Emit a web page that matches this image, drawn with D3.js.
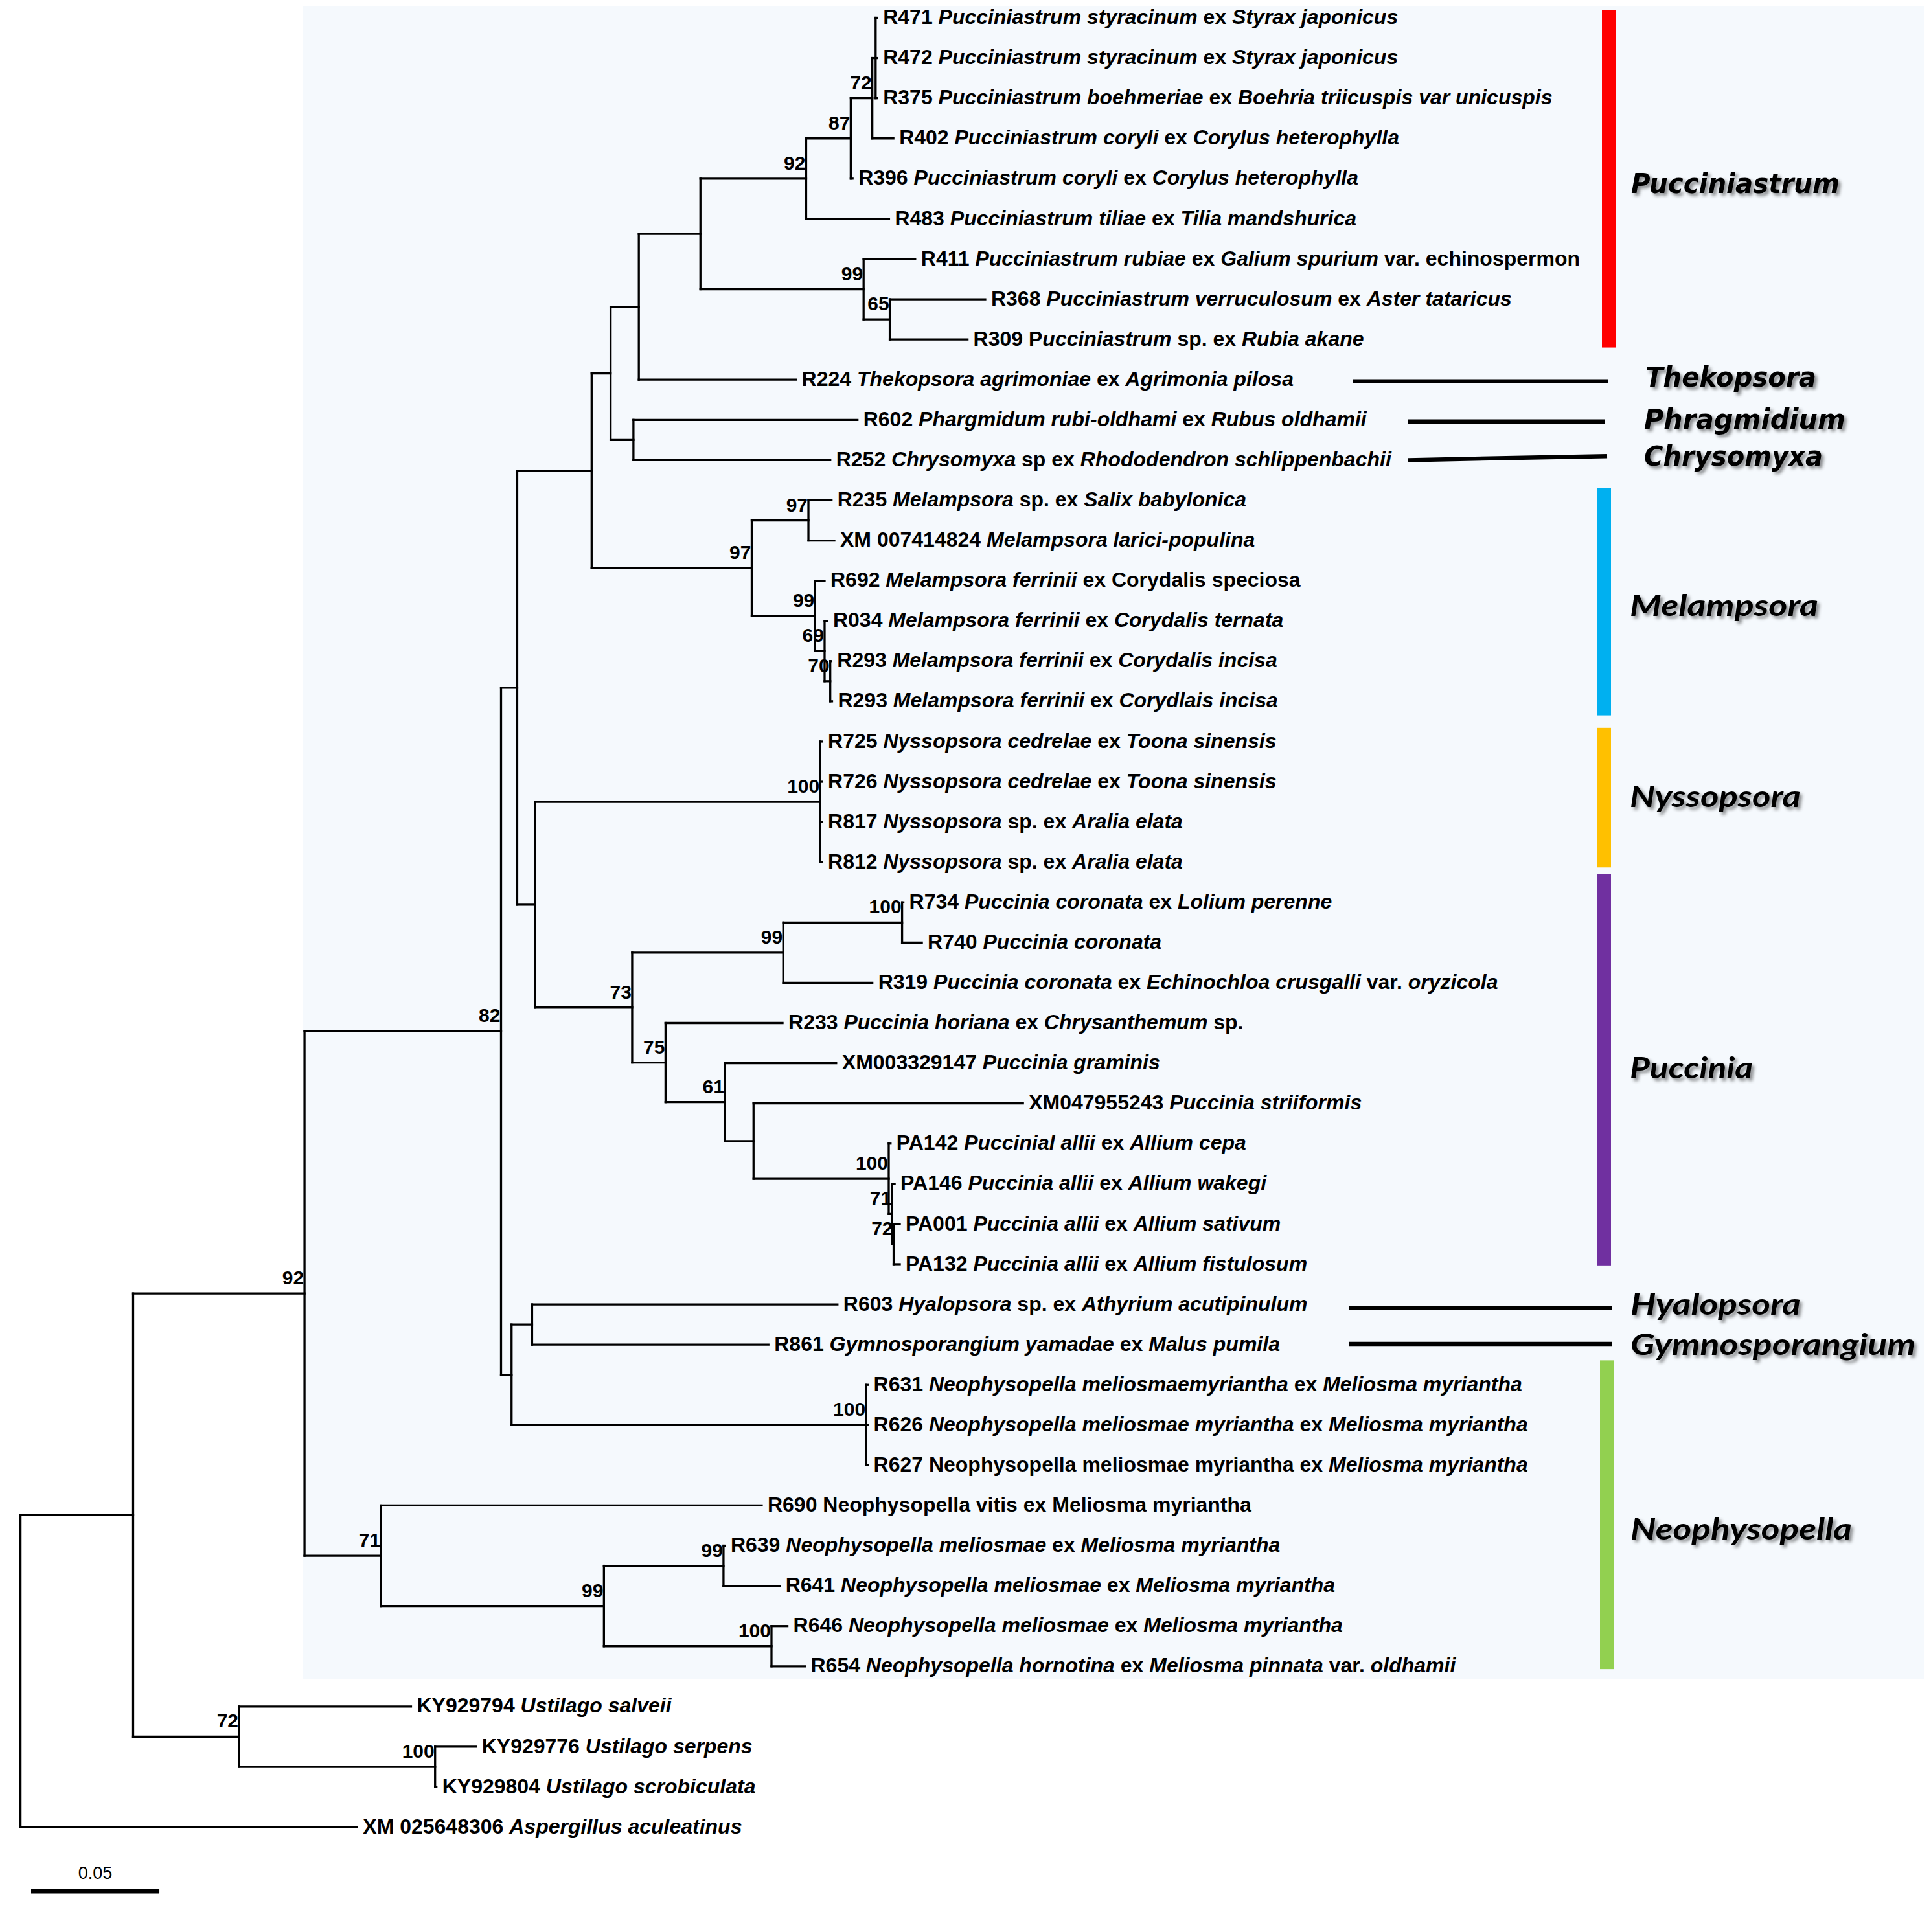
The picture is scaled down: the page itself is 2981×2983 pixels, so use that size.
<!DOCTYPE html>
<html>
<head>
<meta charset="utf-8">
<script src="https://cdn.jsdelivr.net/npm/d3@7"></script>
<style>
  html, body { margin: 0; padding: 0; background: #ffffff; }
  svg { display: block; }
  text { white-space: pre; }
</style>
</head>
<body>
<script>
// ---------------- DATA ----------------
// Tree nodes in preorder (children appear in drawing order, top to bottom)
const nodeIds = [
  "root","A","B","C","D","F","H","I","J","K","L","M","M1",
  "R471","R472","R375","R402","R396","R483",
  "O","R411","O1","R368","R309","R224",
  "Q","R602","R252",
  "S","S1","R235","XM7414824","S2","R692","S3","R034","S4","R293a","R293b",
  "G","G1","R725","R726","R817","R812",
  "G2","P1","P1a","R734","R740","R319",
  "P2","R233","P3","XM3329147","P4","XM47955243","P5","PA142","P6","PA146","P7","PA001","PA132",
  "E","E1","R603","R861","E2","R631","R626","R627",
  "N","R690","N2","N3","R639","R641","N4","R646","R654",
  "U","KY929794","U2","KY929776","KY929804",
  "ASP"
];
const parentIds = [
  "","root","A","B","C","D","F","H","I","J","K","L","M",
  "M1","M1","M1","M","L","K",
  "J","O","O","O1","O1","I",
  "H","Q","Q",
  "F","S","S1","S1","S","S2","S2","S3","S3","S4","S4",
  "D","G","G1","G1","G1","G1",
  "G","G2","P1","P1a","P1a","P1",
  "G2","P2","P2","P3","P3","P4","P4","P5","P5","P6","P6","P7","P7",
  "C","E","E1","E1","E","E2","E2","E2",
  "B","N","N","N2","N3","N3","N2","N4","N4",
  "A","U","U","U2","U2",
  "root"
];
const branchLengths = [
  0,0.0439,0.0668,0.0766,0.0063,0.0290,0.0074,0.0110,0.0240,0.0412,0.0174,0.0084,0.0013,
  0.0006,0.0006,0.0006,0.0082,0.0007,0.0323,
  0.0636,0.0201,0.0102,0.0372,0.0303,0.0612,
  0.0089,0.0873,0.0767,
  0.0624,0.0221,0.0090,0.0101,0.0247,0.0037,0.0037,0.0010,0.0022,0.0004,0.0007,
  0.0069,0.1112,0.0007,0.0007,0.0007,0.0007,
  0.0379,0.0589,0.0463,0.0005,0.0077,0.0347,
  0.0130,0.0456,0.0231,0.0434,0.0112,0.1050,0.0527,0.0007,0.0013,0.0010,0.0006,0.0024,0.0024,
  0.0041,0.0080,0.1190,0.0921,0.1382,0.0006,0.0006,0.0006,
  0.0298,0.1484,0.0869,0.0466,0.0005,0.0219,0.0653,0.0062,0.0130,
  0.0413,0.0670,0.0764,0.0159,0.0005,
  0.1312
];
const bootstrapValues = [
  "","","92","82","","","","","","92","87","72","",
  "","","","","","",
  "99","","65","","","",
  "","","",
  "97","97","","","99","","69","","70","","",
  "","100","","","","",
  "73","99","100","","","",
  "75","","61","","","","100","","71","","72","","",
  "","","","","100","","","",
  "71","","99","99","","","100","","",
  "72","","100","","",
  ""
];
// Leaf labels; text between * is italic
const leafLabels = {
  R471: "R471 *Pucciniastrum styracinum* ex *Styrax japonicus*",
  R472: "R472 *Pucciniastrum styracinum* ex *Styrax japonicus*",
  R375: "R375 *Pucciniastrum boehmeriae* ex *Boehria triicuspis var unicuspis*",
  R402: "R402 *Pucciniastrum coryli* ex *Corylus heterophylla*",
  R396: "R396 *Pucciniastrum coryli* ex *Corylus heterophylla*",
  R483: "R483 *Pucciniastrum tiliae* ex *Tilia mandshurica*",
  R411: "R411 *Pucciniastrum rubiae* ex *Galium spurium* var. echinospermon",
  R368: "R368 *Pucciniastrum verruculosum* ex *Aster tataricus*",
  R309: "R309 P*ucciniastrum* sp. ex *Rubia akane*",
  R224: "R224 *Thekopsora agrimoniae* ex *Agrimonia pilosa*",
  R602: "R602 *Phargmidum rubi-oldhami* ex *Rubus oldhamii*",
  R252: "R252 *Chrysomyxa* sp ex *Rhododendron schlippenbachii*",
  R235: "R235 *Melampsora* sp. ex *Salix babylonica*",
  XM7414824: "XM 007414824 *Melampsora larici-populina*",
  R692: "R692 *Melampsora ferrinii* ex Corydalis speciosa",
  R034: "R034 *Melampsora ferrinii* ex *Corydalis ternata*",
  R293a: "R293 *Melampsora ferrinii* ex *Corydalis incisa*",
  R293b: "R293 *Melampsora ferrinii* ex *Corydlais incisa*",
  R725: "R725 *Nyssopsora cedrelae* ex *Toona sinensis*",
  R726: "R726 *Nyssopsora cedrelae* ex *Toona sinensis*",
  R817: "R817 *Nyssopsora* sp. ex *Aralia elata*",
  R812: "R812 *Nyssopsora* sp. ex *Aralia elata*",
  R734: "R734 *Puccinia coronata* ex *Lolium perenne*",
  R740: "R740 *Puccinia coronata*",
  R319: "R319 *Puccinia coronata* ex *Echinochloa crusgalli* var. *oryzicola*",
  R233: "R233 *Puccinia horiana* ex *Chrysanthemum* sp.",
  XM3329147: "XM003329147 *Puccinia graminis*",
  XM47955243: "XM047955243 *Puccinia striiformis*",
  PA142: "PA142 *Puccinial allii* ex *Allium cepa*",
  PA146: "PA146 *Puccinia allii* ex *Allium wakegi*",
  PA001: "PA001 *Puccinia allii* ex *Allium sativum*",
  PA132: "PA132 *Puccinia allii* ex *Allium fistulosum*",
  R603: "R603 *Hyalopsora* sp. ex *Athyrium acutipinulum*",
  R861: "R861 *Gymnosporangium yamadae* ex *Malus pumila*",
  R631: "R631 *Neophysopella meliosmaemyriantha* ex *Meliosma myriantha*",
  R626: "R626 *Neophysopella meliosmae myriantha* ex *Meliosma myriantha*",
  R627: "R627 Neophysopella meliosmae myriantha ex *Meliosma myriantha*",
  R690: "R690 Neophysopella vitis ex Meliosma myriantha",
  R639: "R639 *Neophysopella meliosmae* ex *Meliosma myriantha*",
  R641: "R641 *Neophysopella meliosmae* ex *Meliosma myriantha*",
  R646: "R646 *Neophysopella meliosmae* ex *Meliosma myriantha*",
  R654: "R654 *Neophysopella hornotina* ex *Meliosma pinnata* var. *oldhamii*",
  KY929794: "KY929794 *Ustilago salveii*",
  KY929776: "KY929776 *Ustilago serpens*",
  KY929804: "KY929804 *Ustilago scrobiculata*",
  ASP: "XM 025648306 *Aspergillus aculeatinus*"
};
// Genus groups
const groupNames = ["Pucciniastrum","Thekopsora","Phragmidium","Chrysomyxa","Melampsora","Nyssopsora","Puccinia","Hyalopsora","Gymnosporangium","Neophysopella"];
const groupColors = ["#FF0000", null, null, null, "#00B0F0", "#FFC000", "#7030A0", null, null, "#92D050"];
const scaleBarValue = 0.05;

// ---------------- LAYOUT (positions/sizes/styles) ----------------
const W = 2981, H = 2983;
const L = {
  rootX: 31.6, pxPerUnit: 3961,
  firstLeafY: 27.5, leafStep: 62.08,
  bg: {x: 468, y: 10, w: 2502, h: 2582, fill: "#F5F9FD"},
  leafFont: 32, bootFont: 30, labelGap: 9,
  stroke: 3.3,
  groups: [
    {bar: [-0.2, 8.2], bx: 2473, label: 4.12, lx: 2518, tw: 322, font: "DejaVu Sans", fs: 42},
    {line: [2089, 2483, 9.04, 9.04], label: 8.93, lx: 2540, tw: 264, font: "DejaVu Sans", fs: 42},
    {line: [2174, 2477, 10.04, 10.04], label: 9.98, lx: 2538, tw: 311, font: "DejaVu Sans", fs: 42},
    {line: [2174, 2481, 11.0, 10.9], label: 10.91, lx: 2538, tw: 276, font: "DejaVu Sans", fs: 42},
    {bar: [11.7, 17.35], bx: 2466, label: 14.62, lx: 2516, tw: 291, font: "Lato", fs: 46},
    {bar: [17.66, 21.13], bx: 2466, label: 19.37, lx: 2516, tw: 264, font: "Lato", fs: 46},
    {bar: [21.29, 31.03], bx: 2466, label: 26.12, lx: 2516, tw: 190, font: "Lato", fs: 46},
    {line: [2082, 2489, 32.09, 32.09], label: 32.0, lx: 2517, tw: 263, font: "Lato", fs: 46},
    {line: [2082, 2489, 32.98, 32.98], label: 33.0, lx: 2517, tw: 440, font: "Lato", fs: 46},
    {bar: [33.39, 41.07], bx: 2470, label: 37.59, lx: 2517, tw: 342, font: "Lato", fs: 46}
  ],
  barW: 21, lineW: 6.5,
  scaleBar: {x: 48, y: 2920, w: 7, labelY: 2901, font: 27}
};

// ---------------- BUILD ----------------
const table = nodeIds.map((id, i) => ({id, parent: parentIds[i] || null, len: branchLengths[i], boot: bootstrapValues[i]}));
const root = d3.stratify().id(d => d.id).parentId(d => d.parent)(table);

root.eachBefore(n => { n.depthLen = n.parent ? n.parent.depthLen + n.data.len : 0; });
const leaves = root.leaves();
const x = d3.scaleLinear().domain([0, 1]).range([L.rootX, L.rootX + L.pxPerUnit]);
const y = d3.scaleLinear().domain([0, 1]).range([L.firstLeafY, L.firstLeafY + L.leafStep]);
leaves.forEach((lf, i) => { lf.row = i; });
root.eachAfter(n => {
  n.px = x(n.depthLen);
  if (n.children) {
    n.py = (n.children[0].py + n.children[n.children.length - 1].py) / 2;
  } else {
    n.py = y(n.row);
  }
});

const svg = d3.select("body").append("svg").attr("width", W).attr("height", H).attr("viewBox", `0 0 ${W} ${H}`);
svg.append("rect").attr("width", W).attr("height", H).attr("fill", "#ffffff");

const defs = svg.append("defs");
const f = defs.append("filter").attr("id", "shadow").attr("x", "-10%").attr("y", "-30%").attr("width", "130%").attr("height", "170%");
f.append("feDropShadow").attr("dx", 4).attr("dy", 4).attr("stdDeviation", 2.5).attr("flood-color", "#000").attr("flood-opacity", 0.45);

svg.append("rect").attr("x", L.bg.x).attr("y", L.bg.y).attr("width", L.bg.w).attr("height", L.bg.h).attr("fill", L.bg.fill);

const gTree = svg.append("g").attr("stroke", "#000").attr("stroke-width", L.stroke).attr("fill", "none").attr("stroke-linecap", "square");
gTree.selectAll("line.h").data(root.descendants().filter(n => n.parent)).join("line")
  .attr("class", "h")
  .attr("x1", d => d.parent.px).attr("x2", d => d.px)
  .attr("y1", d => d.py).attr("y2", d => d.py);
gTree.selectAll("line.v").data(root.descendants().filter(n => n.children)).join("line")
  .attr("class", "v")
  .attr("x1", d => d.px).attr("x2", d => d.px)
  .attr("y1", d => d.children[0].py).attr("y2", d => d.children[d.children.length - 1].py);

const gLab = svg.append("g").attr("font-family", "'Liberation Sans', Arial, sans-serif").attr("font-weight", "bold").attr("font-size", L.leafFont).attr("fill", "#000");
leaves.forEach(lf => {
  const t = gLab.append("text").attr("x", lf.px + L.labelGap).attr("y", lf.py).attr("dy", "0.3em");
  const parts = leafLabels[lf.data.id].split("*");
  parts.forEach((p, i) => {
    if (!p) return;
    t.append("tspan").attr("font-style", i % 2 ? "italic" : "normal").text(p);
  });
});

svg.append("g").attr("font-family", "'Liberation Sans', Arial, sans-serif").attr("font-weight", "bold").attr("font-size", L.bootFont).attr("text-anchor", "end")
  .selectAll("text").data(root.descendants().filter(n => n.data.boot)).join("text")
  .attr("x", d => d.px - 1).attr("y", d => d.py - 14).text(d => d.data.boot);

const gGrp = svg.append("g");
groupNames.forEach((name, i) => {
  const g = L.groups[i];
  if (g.bar) {
    gGrp.append("rect").attr("x", g.bx).attr("y", y(g.bar[0])).attr("width", L.barW)
      .attr("height", y(g.bar[1]) - y(g.bar[0])).attr("fill", groupColors[i]);
  } else {
    gGrp.append("line").attr("x1", g.line[0]).attr("x2", g.line[1]).attr("y1", y(g.line[2])).attr("y2", y(g.line[3]))
      .attr("stroke", "#000").attr("stroke-width", L.lineW);
  }
  gGrp.append("text").attr("x", g.lx).attr("y", y(g.label)).attr("dy", "0.35em")
    .attr("font-family", g.font + ", sans-serif").attr("font-weight", "bold").attr("font-style", "italic")
    .attr("font-size", g.fs).attr("textLength", g.tw).attr("lengthAdjust", "spacingAndGlyphs")
    .attr("filter", "url(#shadow)").attr("fill", "#000").text(name);
});

const sbLen = x(scaleBarValue) - x(0);
svg.append("line").attr("x1", L.scaleBar.x).attr("x2", L.scaleBar.x + sbLen).attr("y1", L.scaleBar.y).attr("y2", L.scaleBar.y)
  .attr("stroke", "#000").attr("stroke-width", L.scaleBar.w);
svg.append("text").attr("x", L.scaleBar.x + sbLen / 2).attr("y", L.scaleBar.labelY).attr("text-anchor", "middle")
  .attr("font-family", "'Liberation Sans', Arial, sans-serif").attr("font-size", L.scaleBar.font).text(d3.format(".2f")(scaleBarValue));
</script>
</body>
</html>
